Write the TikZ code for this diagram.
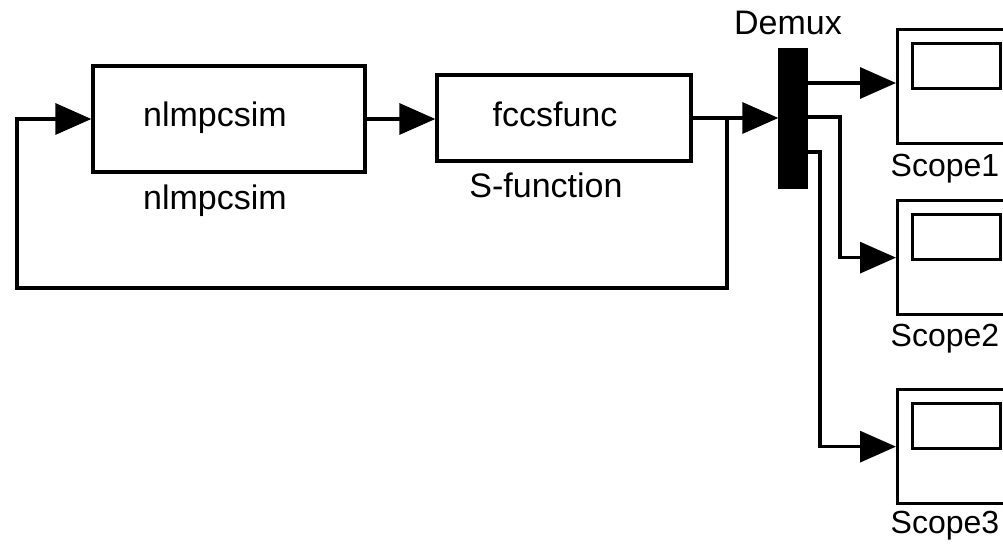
\documentclass[tikz,border=0pt]{standalone}
\usepackage{fontspec}
\setmainfont{Liberation Sans}
\usetikzlibrary{arrows.meta,positioning,calc}

\begin{document}
\begin{tikzpicture}[
    x=1pt, y=-1pt,
    line width=3.3pt,
    blk/.style={draw, rectangle, inner sep=0pt},
    bar/.style={draw, fill=black, rectangle, inner sep=0pt, minimum width=26pt, minimum height=137pt},
    scopebox/.style={draw, rectangle, inner sep=0pt, anchor=north west, minimum width=130pt, minimum height=114pt},
    screen/.style={draw, rectangle, inner sep=0pt, anchor=north west, minimum width=88pt, minimum height=45pt},
    txt/.style={inner sep=0pt, font=\fontsize{34}{40}\selectfont},
    stxt/.style={inner sep=0pt, font=\fontsize{32}{38}\selectfont},
    wire/.style={draw, line width=3.3pt},
    tip/.style={-{Triangle[length=36pt,width=31pt]}},
]
\useasboundingbox (0,0) rectangle (1003,545);

% blocks
\node[blk, minimum width=272pt, minimum height=106pt] (nlmpc) at (229,119) {};
\node[txt, anchor=base] (nlmpctxt) at (215,127) {nlmpcsim};
\node[txt, anchor=base] (nlmpclbl) at (215,210) {nlmpcsim};

\node[blk, minimum width=254pt, minimum height=86pt] (fccs) at (564,118) {};
\node[txt, anchor=base] (fccstxt) at (555,127) {fccsfunc};
\node[txt, anchor=base] (fccslbl) at (546,198) {S-function};

\node[bar] (demux) at (793,118.5) {};
\node[txt, anchor=base] (demuxlbl) at (788,35) {Demux};

% scopes
\node[scopebox] (scope1) at (896,28) {};
\node[screen] (scr1) at ([shift={(15,14)}]scope1.north west) {};
\node[stxt, anchor=base west] (scope1lbl) at (889,177) {Scope1};

\node[scopebox] (scope2) at (896,199) {};
\node[screen] (scr2) at ([shift={(15,14)}]scope2.north west) {};
\node[stxt, anchor=base west] (scope2lbl) at (889,346) {Scope2};

\node[scopebox] (scope3) at (896,388) {};
\node[screen] (scr3) at ([shift={(15,14)}]scope3.north west) {};
\node[stxt, anchor=base west] (scope3lbl) at (889,533) {Scope3};

% points on the wires
\coordinate (br) at (727,118);
\coordinate (fb) at (17,288);
\coordinate (d1) at (806,83);
\coordinate (d2) at (806,117);
\coordinate (d3) at (806,152);
\coordinate (b2) at (840,117);
\coordinate (b3) at (820,152);

% wires
\draw[wire, tip] (nlmpc.east) -- (nlmpc.east -| fccs.west);
\draw[wire, tip] (fccs.east) -- (fccs.east -| demux.west);
\draw[wire, tip] (br) |- (fb) |- (nlmpc.west);
\draw[wire, tip] (d1) -- (d1 -| scope1.west);
\draw[wire, tip] (d2) -- (b2) |- (scope2.west);
\draw[wire, tip] (d3) -- (b3) |- (scope3.west);
\end{tikzpicture}
\end{document}
